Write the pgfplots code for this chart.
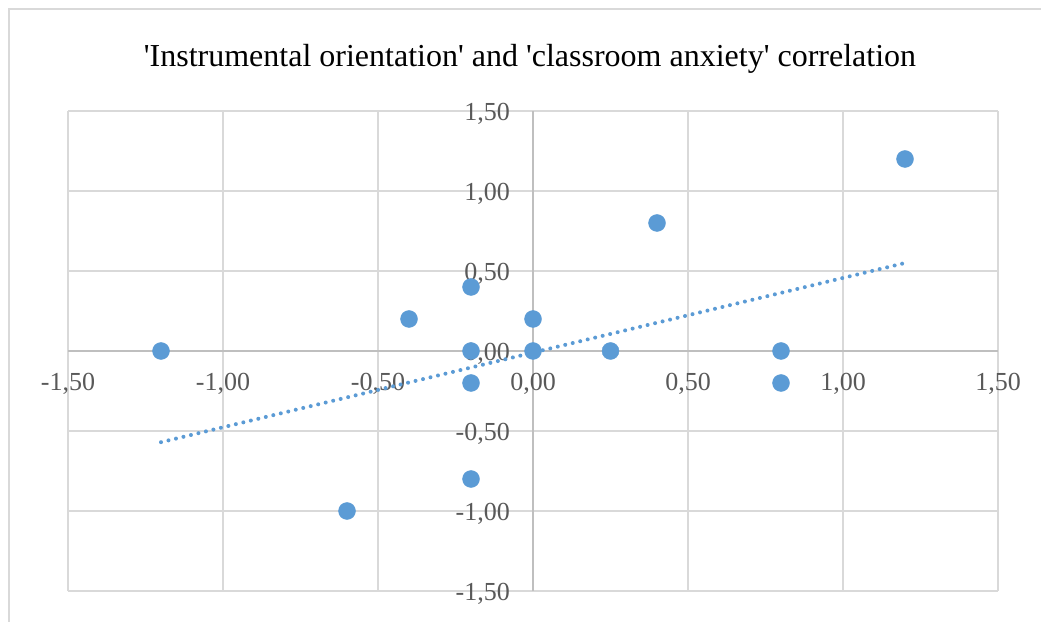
\documentclass[border=0pt]{standalone}
\usepackage{fontspec}
\setmainfont{Liberation Serif}
\newfontfamily\tfont{Liberation Serif}
\usepackage{pgfplots}
\pgfplotsset{compat=1.18}
\definecolor{pt}{RGB}{91,155,213}
\definecolor{gridc}{RGB}{217,217,217}
\definecolor{axc}{RGB}{191,191,191}
\definecolor{lab}{RGB}{89,89,89}
\begin{document}
\begin{tikzpicture}
\useasboundingbox (0,0) rectangle (1041pt,621pt);
\fill[white] (0,0) rectangle (1041pt,621pt);
\draw[gridc, line width=1.5pt] (9pt,-5pt) -- (9pt,612pt) -- (1050pt,612pt);
\node[anchor=base, font=\tfont\fontsize{32}{37}\selectfont] at (530pt,554pt) {'Instrumental orientation' and 'classroom anxiety' correlation};
\begin{axis}[at={(68pt,30pt)}, anchor=south west, scale only axis, width=930pt, height=480pt,
 xmin=-1.5, xmax=1.5, ymin=-1.5, ymax=1.5,
 axis lines=middle, axis line style={axc, line width=1.5pt, -},
 hide obscured x ticks=false, hide obscured y ticks=false,
 xtick={-1.5,-1,-0.5,0,0.5,1,1.5}, ytick={-1.5,-1,-0.5,0,0.5,1,1.5},
 grid=major, major grid style={gridc, line width=1.3pt},
 major tick length=0pt,
 ticklabel style={font=\fontsize{26}{30}\selectfont, text=lab, inner sep=0pt},
 xticklabel style={anchor=center, yshift=-33pt},
 yticklabel style={anchor=east, xshift=-23pt, yshift=-2.5pt},
 /pgf/number format/.cd, use comma, fixed, fixed zerofill, precision=2, assume math mode=true,
 ]
\addplot[only marks, draw=pt, fill=pt, mark=*, mark size=8.5pt, mark options={draw=pt, fill=pt}] coordinates {
(-1.2,0) (-0.6,-1) (-0.4,0.2) (-0.2,0.4) (-0.2,0) (-0.2,-0.2) (-0.2,-0.8)
(0,0.2) (0,0) (0.25,0) (0.4,0.8) (0.8,0) (0.8,-0.2) (1.2,1.2)};
\addplot[pt, line width=4pt, line cap=round, dash pattern=on 0pt off 7.7pt] coordinates {(-1.2,-0.57) (1.2,0.55)};
\end{axis}
\end{tikzpicture}
\end{document}
